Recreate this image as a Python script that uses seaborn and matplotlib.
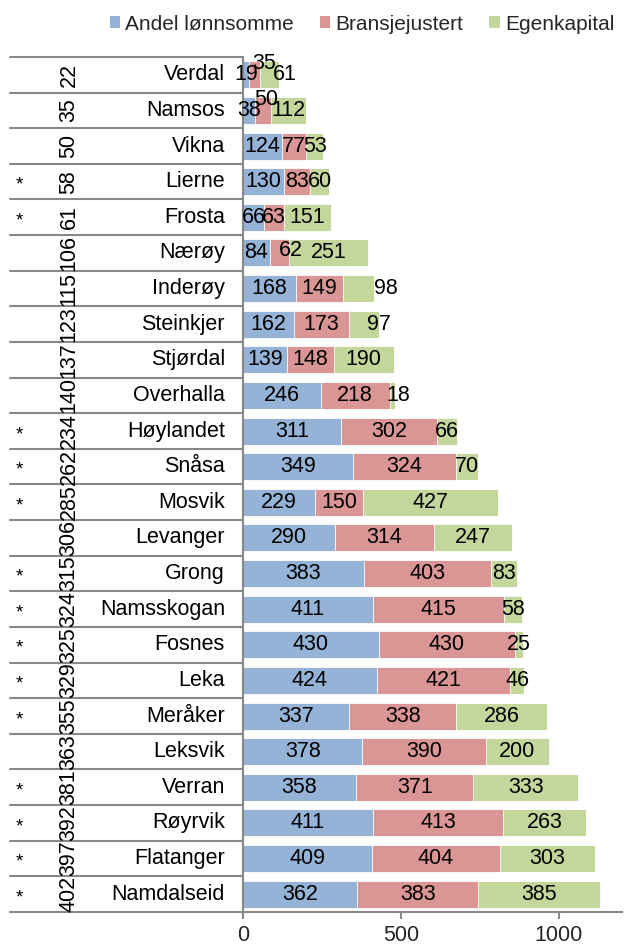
import matplotlib
matplotlib.use("Agg")
import matplotlib.pyplot as plt
import matplotlib.transforms as mtransforms
from matplotlib.patches import Patch
from matplotlib.lines import Line2D
import seaborn as sns
import pandas as pd

# Municipalities, ordered by rank
kommuner = ["Verdal", "Namsos", "Vikna", "Lierne", "Frosta", "Nærøy", "Inderøy",
            "Steinkjer", "Stjørdal", "Overhalla", "Høylandet", "Snåsa", "Mosvik",
            "Levanger", "Grong", "Namsskogan", "Fosnes", "Leka", "Meråker",
            "Leksvik", "Verran", "Røyrvik", "Flatanger", "Namdalseid"]
rang = [22, 35, 50, 58, 61, 106, 115, 123, 137, 140, 234, 262, 285, 306, 315,
        324, 325, 329, 355, 363, 381, 392, 397, 402]
stjerne = ["", "", "", "*", "*", "", "", "", "", "", "*", "*", "*", "", "*",
           "*", "*", "*", "*", "", "*", "*", "*", "*"]

# Score components
andel_lonnsomme = [19, 38, 124, 130, 66, 84, 168, 162, 139, 246, 311, 349, 229,
                   290, 383, 411, 430, 424, 337, 378, 358, 411, 409, 362]
bransjejustert = [35, 50, 77, 83, 63, 62, 149, 173, 148, 218, 302, 324, 150,
                  314, 403, 415, 430, 421, 338, 390, 371, 413, 404, 383]
egenkapital = [61, 112, 53, 60, 151, 251, 98, 97, 190, 18, 66, 70, 427, 247,
               83, 58, 25, 46, 286, 200, 333, 263, 303, 385]

serier = ["Andel lønnsomme", "Bransjejustert", "Egenkapital"]
farger = ["#95B3D7", "#D99694", "#C3D69B"]

df = pd.DataFrame({"kommune": kommuner, "a": andel_lonnsomme,
                   "b": bransjejustert, "c": egenkapital})
df["ab"] = df["a"] + df["b"]
df["abc"] = df["ab"] + df["c"]

# Label nudges (points) for segments too narrow to hold their number
nudge = {(0, 1): (7, 8), (0, 2): (11, 0), (1, 1): (2, 8), (5, 1): (8, 2),
         (6, 2): (20, 0), (7, 2): (11, 0), (9, 2): (4, 0)}

sns.set_theme(style="white")
plt.rcParams["font.family"] = ["Liberation Sans", "DejaVu Sans"]
FS = 15.5

fig = plt.figure(figsize=(6.35, 9.46), dpi=100)
W, H = 635, 946
ax = fig.add_axes([243 / W, 1 - 912 / H, (622 - 243) / W, (912 - 57) / H])

# Stacked bars drawn as layered cumulative totals
for col, farge in zip(["abc", "ab", "a"], farger[::-1]):
    sns.barplot(data=df, x=col, y="kommune", orient="h", color=farge,
                width=0.76, saturation=1, edgecolor="white", linewidth=0.6,
                ax=ax)

# Segment value labels
for i, row in df.iterrows():
    starts = [0, row["a"], row["ab"]]
    for j, (s, v) in enumerate(zip(starts, [row["a"], row["b"], row["c"]])):
        dx, dy = nudge.get((i, j), (0, 0))
        ax.annotate(f"{v}", (s + v / 2, i), xytext=(dx, dy),
                    textcoords="offset points", ha="center", va="center",
                    fontsize=FS, color="black")

ax.set_xlim(0, 1200)
ax.set_ylim(len(kommuner) - 0.5, -0.5)
ax.set_xticks([0, 500, 1000])
ax.set_xticklabels(["0", "500", "1000"], fontsize=FS)
ax.set_yticks([])
ax.set_xlabel("")
ax.set_ylabel("")
for side in ["top", "right"]:
    ax.spines[side].set_visible(False)
for side in ["left", "bottom"]:
    ax.spines[side].set_color("#888888")
    ax.spines[side].set_linewidth(1.5)
ax.tick_params(axis="x", direction="out", length=5, width=1.5,
               color="#888888", pad=4, bottom=True)

# Category table to the left of the bars
trans = mtransforms.blended_transform_factory(fig.transFigure, ax.transData)
for k in range(len(kommuner) + 1):
    ax.add_line(Line2D([10 / W, 243 / W], [k - 0.5, k - 0.5], transform=trans,
                       color="#888888", linewidth=1.5, clip_on=False))
for i, (navn, r, s) in enumerate(zip(kommuner, rang, stjerne)):
    ax.text(225 / W, i, navn, transform=trans, ha="right", va="center",
            fontsize=FS, color="black")
    ax.text(69 / W, i, str(r), transform=trans, ha="center", va="center",
            rotation=90, rotation_mode="anchor", fontsize=FS, color="black")
    if s:
        ax.text(19 / W, i + 0.1, s, transform=trans, ha="center",
                va="center", fontsize=FS - 2, color="black")

handles = [Patch(facecolor=f, edgecolor="none") for f in farger]
fig.legend(handles, serier, ncol=3, loc="center",
           bbox_to_anchor=(362 / W, 1 - 24 / H), frameon=False, fontsize=15,
           handlelength=0.5, handleheight=0.5, handletextpad=0.25,
           columnspacing=1.25, borderaxespad=0)

fig.savefig("out.png", dpi=100)
